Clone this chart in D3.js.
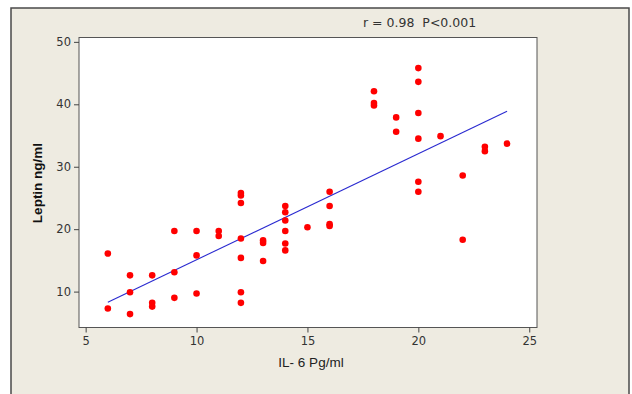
<!DOCTYPE html>
<html><head><meta charset="utf-8">
<script src="https://cdn.jsdelivr.net/npm/d3@7"></script>
<style>body{margin:0;background:#fff}svg{display:block}</style>
</head><body>
<svg id="c" width="632" height="394"></svg>
<script>
// IL-6 (Pg/ml) values
const il6 = [6,6, 7,7,7, 8,8,8, 9,9,9, 10,10,10, 11,11,
  12,12,12,12,12,12,12, 13,13,13, 14,14,14,14,14,14, 15,
  16,16,16,16, 18,18,18, 19,19, 20,20,20,20,20,20, 21, 22,22, 23,23, 24];
// Leptin (ng/ml) values
const leptin = [16.1,7.3, 12.6,9.9,6.4, 12.6,8.2,7.6, 19.7,13.1,9.0, 19.7,15.8,9.7, 19.7,18.9,
  25.8,25.4,24.2,18.5,15.4,9.9,8.2, 18.2,17.8,14.9, 23.7,22.7,21.4,19.7,17.7,16.6, 20.3,
  26.0,23.7,20.8,20.5, 42.1,40.2,39.8, 37.9,35.6, 45.8,43.6,38.6,34.5,27.6,26.0, 34.9, 28.6,18.3, 33.2,32.5, 33.7];
const xTicks = [5,10,15,20,25];
const yTicks = [10,20,30,40,50];
const fitX = [6,24];
const fitY = [8.3,38.9];
const annotation = "r = 0.98  P<0.001";
const xTitle = "IL- 6 Pg/ml";
const yTitle = "Leptin ng/ml";

const svg = d3.select("#c");
svg.append("rect").attr("x",11).attr("y",8).attr("width",618).attr("height",400)
  .attr("fill","#eeebe1").attr("stroke","#4a4a4a").attr("stroke-width",1.5);

const L=79,R=537,T=37.5,B=327.5;
const x = d3.scaleLinear().domain([4.7,25.35]).range([L,R]);
const y = d3.scaleLinear().domain([4.25,50.7]).range([B,T]);

svg.append("rect").attr("x",L).attr("y",T).attr("width",R-L).attr("height",B-T)
  .attr("fill","#fff").attr("stroke","#555").attr("stroke-width",1);

const font="'DejaVu Sans', Verdana, sans-serif";
const gx = svg.append("g").attr("transform",`translate(0,${B})`)
  .call(d3.axisBottom(x).tickValues(xTicks).tickSize(5).tickSizeOuter(0).tickPadding(4));
const gy = svg.append("g").attr("transform",`translate(${L},0)`)
  .call(d3.axisLeft(y).tickValues(yTicks).tickSize(5).tickSizeOuter(0).tickPadding(3));
[gx,gy].forEach(g=>{
  g.select(".domain").remove();
  g.selectAll("line").attr("stroke","#444");
  g.selectAll("text").attr("fill","#333").style("font-family",font).style("font-size","11.5px");
});

svg.append("line")
  .attr("x1",x(fitX[0])).attr("y1",y(fitY[0]))
  .attr("x2",x(fitX[1])).attr("y2",y(fitY[1]))
  .attr("stroke","#2a2ad0").attr("stroke-width",1.1);

svg.append("g").selectAll("circle").data(il6.map((v,i)=>[v,leptin[i]])).join("circle")
  .attr("cx",d=>x(d[0])).attr("cy",d=>y(d[1])).attr("r",3.3).attr("fill","#ff0000");

svg.append("text").attr("x",363).attr("y",27).text(annotation)
  .style("white-space","pre")
  .attr("fill","#333").style("font-family",font).style("font-size","12.5px");
svg.append("text").attr("x",(L+R)/2+3).attr("y",367).attr("text-anchor","middle").text(xTitle)
  .attr("fill","#222").style("font-family","'Liberation Sans', Arial, sans-serif").style("font-size","13.5px");
svg.append("text").attr("transform","translate(42,183) rotate(-90)").attr("text-anchor","middle").text(yTitle)
  .attr("fill","#111").style("font-family","'Liberation Sans', Arial, sans-serif").style("font-size","13.5px").style("font-weight","bold");
</script>
</body></html>
